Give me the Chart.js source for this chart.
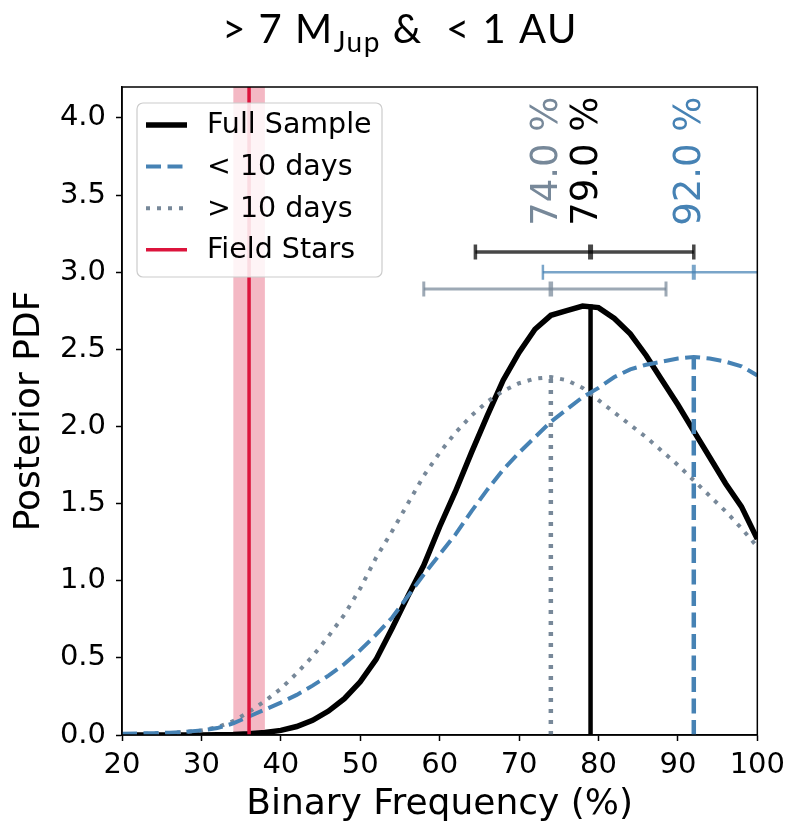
<!DOCTYPE html>
<html>
<head>
<meta charset="utf-8">
<script src="https://cdn.jsdelivr.net/npm/chart.js@4.4.1/dist/chart.umd.min.js"></script>
<style>
  body { margin: 0; background: #fff; }
</style>
</head>
<body>
<canvas id="pdfChart" width="792" height="823"></canvas>
<script>
// binary frequency grid (%) and the three posterior PDFs
const freqGrid = [20, 22, 24, 26, 28, 30, 32, 34, 36, 38, 40, 42, 44, 46, 48, 50, 52, 54, 56, 58,
                  60, 62, 64, 66, 68, 70, 72, 74, 76, 78, 80, 82, 84, 86, 88, 90, 92, 94, 96, 98, 100];
const pdfFull = [0, 0, 0, 0, 0, 0, 0.001, 0.003, 0.008, 0.016, 0.03, 0.055, 0.095, 0.155, 0.235, 0.345, 0.49, 0.69, 0.9, 1.1,
                 1.35, 1.58, 1.83, 2.07, 2.3, 2.48, 2.63, 2.72, 2.75, 2.78, 2.77, 2.70, 2.60, 2.46, 2.30, 2.14, 1.97, 1.80, 1.63, 1.48, 1.27];
const pdfShort = [0.008, 0.01, 0.012, 0.015, 0.02, 0.03, 0.045, 0.075, 0.12, 0.165, 0.21, 0.26, 0.32, 0.385, 0.46, 0.55, 0.65, 0.76, 0.9, 1.04,
                  1.17, 1.3, 1.45, 1.59, 1.72, 1.83, 1.93, 2.03, 2.11, 2.19, 2.25, 2.32, 2.37, 2.40, 2.42, 2.44, 2.45, 2.44, 2.42, 2.39, 2.33];
const pdfLong = [0.004, 0.006, 0.009, 0.013, 0.02, 0.03, 0.05, 0.09, 0.15, 0.22, 0.3, 0.4, 0.51, 0.64, 0.78, 0.95, 1.15, 1.32, 1.5, 1.68,
                 1.83, 1.96, 2.07, 2.16, 2.23, 2.28, 2.31, 2.32, 2.3, 2.25, 2.17, 2.09, 2.01, 1.93, 1.84, 1.75, 1.65, 1.55, 1.45, 1.34, 1.22];

// medians, 1-sigma intervals and the height of the PDF at the median
const seriesNames = ["Full Sample", "< 10 days", "> 10 days"];
const medians = [79.0, 92.0, 74.0];
const errLow = [64.5, 73.0, 58.0];
const errHigh = [92.0, 108.0, 88.5];
const errRowY = [3.13, 3.0, 2.89];
const medianPeak = [2.79, 2.45, 2.32];

// field star binary fraction
const fieldName = "Field Stars";
const fieldValue = [36];
const fieldRange = [34, 38];

const xTickValues = [20, 30, 40, 50, 60, 70, 80, 90, 100];
const yTickValues = [0, 0.5, 1.0, 1.5, 2.0, 2.5, 3.0, 3.5, 4.0];
const xRange = [20, 100];
const yRange = [0, 4.2];

const seriesColors = ["#000000", "#4682b4", "#778899"];
const barColors = ["rgba(0,0,0,0.72)", "rgba(70,130,180,0.72)", "rgba(119,136,153,0.72)"];
const seriesDash = [[], [15, 6.5], [4, 7]];
const seriesWidth = [5.5, 4, 4];
const seriesOrder = [7, 3, 5];
const barWidth = [3.5, 2.5, 3];
const fieldColor = "#dc143c";

function toPoints(xs, ys) {
    var result = [];
    for (var i = 0; i < xs.length; i++) result[i] = {x: xs[i], y: ys[i]};
    return result;
}

const curves = [pdfFull, pdfShort, pdfLong];
var datasets = [];

datasets.push({
    label: "band",
    data: toPoints(fieldRange, [yRange[1], yRange[1]]),
    fill: "origin",
    backgroundColor: "rgba(220,20,60,0.3)",
    borderWidth: 0,
    pointRadius: 0,
    order: 20,
});

for (let i = 0; i < curves.length; i++) {
    datasets.push({
        label: seriesNames[i],
        inLegend: true,
        data: toPoints(freqGrid, curves[i]),
        borderColor: seriesColors[i],
        borderWidth: seriesWidth[i],
        borderDash: seriesDash[i],
        pointRadius: 0,
        order: seriesOrder[i],
    });
    datasets.push({
        label: seriesNames[i] + " median",
        data: toPoints([medians[i], medians[i]], [0, medianPeak[i]]),
        borderColor: seriesColors[i],
        borderWidth: 4.5,
        borderDash: seriesDash[i],
        pointRadius: 0,
        order: seriesOrder[i] - 1,
    });
    datasets.push({
        label: seriesNames[i] + " interval",
        data: toPoints([errLow[i], medians[i], errHigh[i]], [errRowY[i], errRowY[i], errRowY[i]]),
        borderColor: barColors[i],
        borderWidth: barWidth[i],
        pointStyle: "line",
        rotation: 90,
        pointRadius: 7.5,
        pointHoverRadius: 7.5,
        pointBorderColor: barColors[i],
        pointBorderWidth: [barWidth[i], barWidth[i] + 1.5, barWidth[i]],
        order: 1,
    });
}

datasets.push({
    label: fieldName,
    inLegend: true,
    data: toPoints([fieldValue[0], fieldValue[0]], [yRange[0], yRange[1]]),
    borderColor: fieldColor,
    borderWidth: 3.5,
    pointRadius: 0,
    order: 2,
});

// title with the subscript, drawn above the axes
const titlePlugin = {
    id: "figTitle",
    afterDraw(chart) {
        const ctx = chart.ctx;
        const big = "40px Lato", small = "28px Lato";
        const a = "> 7 M", b = "Jup", c = " &  < 1 AU";
        ctx.save();
        ctx.fillStyle = "#000";
        ctx.textBaseline = "alphabetic";
        ctx.letterSpacing = "1.5px";
        ctx.font = big;
        const wa = ctx.measureText(a).width, wc = ctx.measureText(c).width;
        ctx.font = small;
        const wb = ctx.measureText(b).width;
        var x = 400 - (wa + wb + wc) / 2;
        ctx.font = big;
        ctx.fillText(a, x, 43);
        x += wa;
        ctx.font = small;
        ctx.fillText(b, x, 52);
        x += wb;
        ctx.font = big;
        ctx.fillText(c, x, 43);
        ctx.restore();
    }
};

// frame, rotated median labels and the legend box
const overlayPlugin = {
    id: "overlay",
    afterDraw(chart) {
        const ctx = chart.ctx;
        const area = chart.chartArea;
        const xs = chart.scales.x, ys = chart.scales.y;

        ctx.save();
        ctx.strokeStyle = "#000";
        ctx.lineWidth = 1.5;
        ctx.strokeRect(area.left, area.top, area.right - area.left, area.bottom - area.top);

        ctx.font = "37px DejaVu Sans";
        ctx.textAlign = "left";
        ctx.textBaseline = "middle";
        for (let i = 0; i < medians.length; i++) {
            ctx.save();
            ctx.translate(xs.getPixelForValue(medians[i]) - 3, ys.getPixelForValue(3.3));
            ctx.rotate(-Math.PI / 2);
            ctx.fillStyle = seriesColors[i];
            ctx.fillText(medians[i].toFixed(1) + " %", 0, 0);
            ctx.restore();
        }

        const box = {x: 137, y: 103, w: 245, h: 174};
        ctx.beginPath();
        ctx.roundRect(box.x, box.y, box.w, box.h, 6);
        ctx.fillStyle = "rgba(255,255,255,0.85)";
        ctx.fill();
        ctx.strokeStyle = "#cccccc";
        ctx.lineWidth = 1.2;
        ctx.stroke();

        const items = chart.data.datasets.filter(d => d.inLegend);
        ctx.font = "28.5px DejaVu Sans";
        for (let i = 0; i < items.length; i++) {
            const y = box.y + 22 + i * 41.6;
            ctx.beginPath();
            ctx.setLineDash(items[i].borderDash || []);
            ctx.strokeStyle = items[i].borderColor;
            ctx.lineWidth = items[i].borderWidth;
            ctx.moveTo(146, y);
            ctx.lineTo(187, y);
            ctx.stroke();
            ctx.setLineDash([]);
            ctx.fillStyle = "#000";
            ctx.fillText(items[i].label, 207, y + 1);
        }
        ctx.restore();
    }
};

const tickFont = {family: "DejaVu Sans", size: 29};
const labelFont = {family: "DejaVu Sans", size: 36, lineHeight: 1.0};

new Chart(document.getElementById("pdfChart"), {
    type: "line",
    data: {datasets: datasets},
    plugins: [titlePlugin, overlayPlugin],
    options: {
        responsive: false,
        animation: false,
        devicePixelRatio: 1,
        layout: {padding: {top: 87, right: 34, left: 0, bottom: 0}},
        plugins: {
            legend: {display: false},
            tooltip: {enabled: false},
        },
        scales: {
            x: {
                type: "linear",
                min: xRange[0],
                max: xRange[1],
                afterBuildTicks: s => { s.ticks = xTickValues.map(v => ({value: v})); },
                afterFit: s => { s.height = 88; },
                ticks: {font: tickFont, color: "#000", padding: 7, maxRotation: 0, callback: v => String(v)},
                grid: {drawOnChartArea: false, drawTicks: true, tickLength: 6, tickColor: "#000", tickWidth: 1.5},
                border: {display: true, color: "#000", width: 1.5},
                title: {display: true, text: "Binary Frequency (%)", font: labelFont, color: "#000", padding: {top: 0, bottom: 0}},
            },
            y: {
                min: yRange[0],
                max: yRange[1],
                afterBuildTicks: s => { s.ticks = yTickValues.map(v => ({value: v})); },
                afterFit: s => { s.width = 122; },
                ticks: {font: tickFont, color: "#000", padding: 10, callback: v => v.toFixed(1)},
                grid: {drawOnChartArea: false, drawTicks: true, tickLength: 6, tickColor: "#000", tickWidth: 1.5},
                border: {display: true, color: "#000", width: 1.5},
                title: {display: true, text: "Posterior PDF", font: labelFont, color: "#000", padding: {top: 12, bottom: 0}},
            },
        },
    },
});
</script>
</body>
</html>
